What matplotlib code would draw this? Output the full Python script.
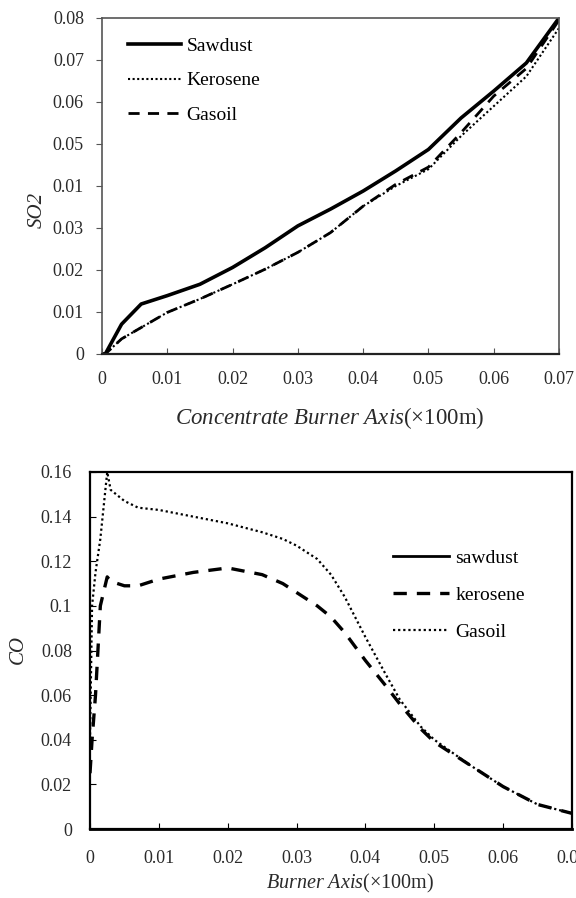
import matplotlib
matplotlib.use("Agg")
import matplotlib.pyplot as plt

plt.rcParams['font.family'] = ['Liberation Serif', 'DejaVu Serif']
plt.rcParams['mathtext.fontset'] = 'custom'
plt.rcParams['mathtext.rm'] = 'Liberation Serif'
plt.rcParams['mathtext.it'] = 'Liberation Serif:italic'

# ---- Top chart (SO2) ----
so2_x = [0.0, 0.0005, 0.003, 0.006, 0.01, 0.015, 0.02, 0.025, 0.03, 0.035,
         0.04, 0.045, 0.05, 0.055, 0.06, 0.065, 0.07]
so2_sawdust = [0.0, 0.0, 0.0071, 0.0119, 0.0139, 0.0166, 0.0206, 0.0253, 0.0305, 0.0345,
               0.0388, 0.0436, 0.0487, 0.0562, 0.0626, 0.0693, 0.080]
so2_kerosene = [0.0, 0.0, 0.0036, 0.0063, 0.0099, 0.0131, 0.0166, 0.0202, 0.0242, 0.0289,
                0.0352, 0.0400, 0.0440, 0.0519, 0.0590, 0.0661, 0.0776]
so2_gasoil = [0.0, 0.0, 0.0036, 0.0063, 0.0099, 0.0131, 0.0166, 0.0202, 0.0242, 0.0289,
              0.0352, 0.0404, 0.0445, 0.0527, 0.0614, 0.0680, 0.0795]
so2_yticks = [0, 0.01, 0.02, 0.03, 0.04, 0.05, 0.06, 0.07, 0.08]
so2_yticklabels = ['0', '0.01', '0.02', '0.03', '0.01', '0.05', '0.06', '0.07', '0.08']
so2_xticks = [0, 0.01, 0.02, 0.03, 0.04, 0.05, 0.06, 0.07]
so2_xticklabels = ['0', '0.01', '0.02', '0.03', '0.04', '0.05', '0.06', '0.07']

# ---- Bottom chart (CO) ----
co_x = [0.0, 0.0003, 0.0008, 0.0015, 0.0025, 0.003, 0.005, 0.007, 0.01, 0.015,
        0.02, 0.025, 0.028, 0.03, 0.033, 0.035, 0.037, 0.04, 0.043, 0.045,
        0.048, 0.05, 0.055, 0.06, 0.065, 0.07]
co_sawdust = [0.0] * len(co_x)
co_kerosene = [0.025, 0.04, 0.06, 0.100, 0.113, 0.111, 0.109, 0.109, 0.112, 0.115,
               0.117, 0.114, 0.110, 0.106, 0.100, 0.095, 0.088, 0.0755, 0.064, 0.056,
               0.045, 0.039, 0.029, 0.019, 0.011, 0.007]
co_gasoil = [0.04, 0.10, 0.115, 0.130, 0.160, 0.152, 0.147, 0.144, 0.143, 0.140,
             0.137, 0.133, 0.130, 0.127, 0.121, 0.114, 0.104, 0.086, 0.069, 0.058,
             0.046, 0.040, 0.029, 0.019, 0.011, 0.007]
co_yticks = [0, 0.02, 0.04, 0.06, 0.08, 0.1, 0.12, 0.14, 0.16]
co_yticklabels = ['0', '0.02', '0.04', '0.06', '0.08', '0.1', '0.12', '0.14', '0.16']
co_xticks = [0, 0.01, 0.02, 0.03, 0.04, 0.05, 0.06, 0.07]
co_xticklabels = ['0', '0.01', '0.02', '0.03', '0.04', '0.05', '0.06', '0.07']

W, H = 576, 898
fig = plt.figure(figsize=(W/100, H/100), dpi=100)

def fx(px):
    return px / W

def fy(py):
    return 1 - py / H

TXT = '#2a2a2a'

# Top axes
ax1 = fig.add_axes([fx(102), fy(354), 457/W, 336/H])
ax1.plot(so2_x, so2_sawdust, color='black', lw=2.6, ls='-', label='Sawdust')
ax1.plot(so2_x, so2_kerosene, color='black', lw=1.5, ls=(0, (1, 1.2)), label='Kerosene')
ax1.plot(so2_x, so2_gasoil, color='black', lw=2.0, ls=(0, (4, 3)), label='Gasoil')
ax1.set_xlim(0, 0.07)
ax1.set_ylim(0, 0.08)
ax1.set_xticks(so2_xticks)
ax1.set_xticklabels(so2_xticklabels)
ax1.set_yticks(so2_yticks)
ax1.set_yticklabels(so2_yticklabels)
ax1.tick_params(axis='x', direction='in', length=4, labelsize=13, pad=12, color='#555555',
                labelcolor=TXT)
ax1.tick_params(axis='y', direction='out', length=4, labelsize=13, pad=9, color='#555555',
                labelcolor=TXT)
for s in ax1.spines.values():
    s.set_color('#555555')
    s.set_linewidth(1.2)
ax1.spines['bottom'].set_color('#222222')
ax1.spines['bottom'].set_linewidth(1.6)
fig.text(fx(330), fy(418), r'$\mathit{Concentrate\ Burner\ Axis}$(×100m)', fontsize=16.5,
         ha='center', va='center', color=TXT)
fig.text(fx(37), fy(210), 'SO2', fontsize=15, fontstyle='italic', rotation=90,
         ha='center', va='center', color=TXT)
ax1.legend(loc='upper left', bbox_to_anchor=(fx(128), fy(37)), bbox_transform=fig.transFigure,
           frameon=False, borderpad=0, borderaxespad=0,
           fontsize=14, handlelength=2.7, handletextpad=0.3, labelspacing=0.88)

# Bottom axes
ax2 = fig.add_axes([fx(90), fy(829), 482/W, 357/H])
ax2.plot(co_x, co_sawdust, color='black', lw=2.0, ls='-', label='sawdust', clip_on=False)
ax2.plot(co_x, co_kerosene, color='black', lw=2.4, ls=(0, (4, 3)), label='kerosene')
ax2.plot(co_x, co_gasoil, color='black', lw=1.6, ls=(0, (1, 1.3)), label='Gasoil')
ax2.set_xlim(0, 0.07)
ax2.set_ylim(0, 0.16)
ax2.set_xticks(co_xticks)
ax2.set_xticklabels(co_xticklabels)
ax2.set_yticks(co_yticks)
ax2.set_yticklabels(co_yticklabels)
ax2.tick_params(axis='x', direction='in', length=4, labelsize=13, pad=15, labelcolor=TXT)
ax2.tick_params(axis='y', direction='in', length=4, labelsize=13, pad=13, labelcolor=TXT)
for s in ax2.spines.values():
    s.set_color('black')
    s.set_linewidth(1.6)
fig.text(fx(350), fy(883), r'$\mathit{Burner\ Axis}$(×100m)', fontsize=14.5,
         ha='center', va='center', color=TXT)
fig.text(fx(18), fy(650), 'CO', fontsize=15, fontstyle='italic', rotation=90,
         ha='center', va='center', color=TXT)
ax2.legend(loc='upper left', bbox_to_anchor=(fx(393), fy(549)), bbox_transform=fig.transFigure,
           frameon=False, borderpad=0, borderaxespad=0,
           fontsize=14, handlelength=2.9, handletextpad=0.3, labelspacing=1.0)

fig.savefig('out.png', dpi=100)
